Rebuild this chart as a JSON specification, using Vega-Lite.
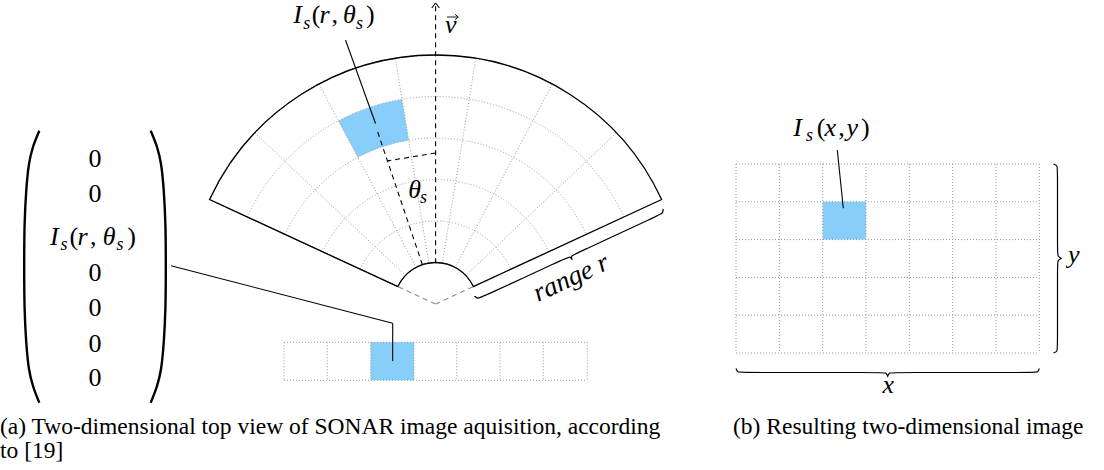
{
  "$schema": "https://vega.github.io/schema/vega-lite/v6.json",
  "width": 1104,
  "height": 470,
  "padding": 0,
  "autosize": "none",
  "background": "white",
  "config": {"view": {"stroke": null}, "font": "Liberation Serif"},
  "datasets": {
    "fanRings": [
      {"x": 435.6, "y": 304, "a0": -65.2, "a1": 65.2, "r0": 83, "r1": 41.5},
      {"x": 435.6, "y": 304, "a0": -65.2, "a1": 65.2, "r0": 124.5, "r1": 41.5},
      {"x": 435.6, "y": 304, "a0": -65.2, "a1": 65.2, "r0": 166, "r1": 41.5},
      {"x": 435.6, "y": 304, "a0": -65.2, "a1": 65.2, "r0": 207.5, "r1": 41.5}
    ],
    "fanRays": [
      {"x": 435.6, "y": 304, "a0": -65.2, "a1": -46.57, "r0": 249, "r1": 41.5},
      {"x": 435.6, "y": 304, "a0": -65.2, "a1": -27.94, "r0": 249, "r1": 41.5},
      {"x": 435.6, "y": 304, "a0": -65.2, "a1": -9.31, "r0": 249, "r1": 41.5},
      {"x": 435.6, "y": 304, "a0": -65.2, "a1": 9.31, "r0": 249, "r1": 41.5},
      {"x": 435.6, "y": 304, "a0": -65.2, "a1": 27.94, "r0": 249, "r1": 41.5},
      {"x": 435.6, "y": 304, "a0": -65.2, "a1": 46.57, "r0": 249, "r1": 41.5}
    ],
    "fanCell": [
      {"x": 435.6, "y": 304, "a0": -27.94, "a1": -9.31, "r0": 207.5, "r1": 166}
    ],
    "fanOutline": [
      {"x": 435.6, "y": 304, "a0": -65.2, "a1": 65.2, "r0": 249, "r1": 41.5}
    ],
    "cells": [
      {"x": 370.7, "x2": 414, "y": 342.3, "y2": 380.3},
      {"x": 822.7, "x2": 866, "y": 201.8, "y2": 239.6}
    ],
    "dots": [
      {"x": 284, "y": 342.3, "x2": 284, "y2": 380.3},
      {"x": 327.3, "y": 342.3, "x2": 327.3, "y2": 380.3},
      {"x": 370.7, "y": 342.3, "x2": 370.7, "y2": 380.3},
      {"x": 414, "y": 342.3, "x2": 414, "y2": 380.3},
      {"x": 456.7, "y": 342.3, "x2": 456.7, "y2": 380.3},
      {"x": 500, "y": 342.3, "x2": 500, "y2": 380.3},
      {"x": 543.3, "y": 342.3, "x2": 543.3, "y2": 380.3},
      {"x": 587.3, "y": 342.3, "x2": 587.3, "y2": 380.3},
      {"x": 284, "y": 342.3, "x2": 587.3, "y2": 342.3},
      {"x": 284, "y": 380.3, "x2": 587.3, "y2": 380.3},
      {"x": 736, "y": 164, "x2": 736, "y2": 353},
      {"x": 779.3, "y": 164, "x2": 779.3, "y2": 353},
      {"x": 822.7, "y": 164, "x2": 822.7, "y2": 353},
      {"x": 866, "y": 164, "x2": 866, "y2": 353},
      {"x": 909.3, "y": 164, "x2": 909.3, "y2": 353},
      {"x": 952.7, "y": 164, "x2": 952.7, "y2": 353},
      {"x": 996, "y": 164, "x2": 996, "y2": 353},
      {"x": 1039.3, "y": 164, "x2": 1039.3, "y2": 353},
      {"x": 736, "y": 164, "x2": 1039.3, "y2": 164},
      {"x": 736, "y": 201.8, "x2": 1039.3, "y2": 201.8},
      {"x": 736, "y": 239.6, "x2": 1039.3, "y2": 239.6},
      {"x": 736, "y": 277.4, "x2": 1039.3, "y2": 277.4},
      {"x": 736, "y": 315.2, "x2": 1039.3, "y2": 315.2},
      {"x": 736, "y": 353, "x2": 1039.3, "y2": 353}
    ],
    "solid": [
      {"x": 171, "y": 265.7, "x2": 392.7, "y2": 323.3},
      {"x": 392.7, "y": 323.3, "x2": 392.7, "y2": 361},
      {"x": 345.5, "y": 40, "x2": 375.5, "y2": 123.5},
      {"x": 837.3, "y": 150, "x2": 843.3, "y2": 208.3},
      {"x": 431.8, "y": 8, "x2": 435.6, "y2": 3},
      {"x": 435.6, "y": 3, "x2": 439.4, "y2": 8}
    ],
    "thin": [
      {"x": 447, "y": 17, "x2": 458, "y2": 17},
      {"x": 455, "y": 14.3, "x2": 458.3, "y2": 17},
      {"x": 455, "y": 19.7, "x2": 458.3, "y2": 17}
    ],
    "dashed": [
      {"x": 435.6, "y": 263.3, "x2": 435.6, "y2": 3.5},
      {"x": 422.4, "y": 264.7, "x2": 376.6, "y2": 128.7},
      {"x": 435.6, "y": 153, "x2": 387.4, "y2": 160.9}
    ],
    "grayDashed": [
      {"x": 435.6, "y": 304, "x2": 397.9, "y2": 286.6},
      {"x": 435.6, "y": 304, "x2": 473.3, "y2": 286.6}
    ],
    "parens": [
      {"id": "L", "i": 1, "x": 39.3, "y": 130.7},
      {"id": "L", "i": 2, "x": 33, "y": 147},
      {"id": "L", "i": 3, "x": 29, "y": 164},
      {"id": "L", "i": 4, "x": 26.3, "y": 190},
      {"id": "L", "i": 5, "x": 24.6, "y": 225},
      {"id": "L", "i": 6, "x": 24.2, "y": 266.5},
      {"id": "L", "i": 7, "x": 24.6, "y": 308},
      {"id": "L", "i": 8, "x": 26.3, "y": 343},
      {"id": "L", "i": 9, "x": 29, "y": 369},
      {"id": "L", "i": 10, "x": 33, "y": 386},
      {"id": "L", "i": 11, "x": 39.3, "y": 402.7},
      {"id": "R", "i": 1, "x": 150.7, "y": 130.7},
      {"id": "R", "i": 2, "x": 157, "y": 147},
      {"id": "R", "i": 3, "x": 161, "y": 164},
      {"id": "R", "i": 4, "x": 163.7, "y": 190},
      {"id": "R", "i": 5, "x": 165.4, "y": 225},
      {"id": "R", "i": 6, "x": 165.8, "y": 266.5},
      {"id": "R", "i": 7, "x": 165.4, "y": 308},
      {"id": "R", "i": 8, "x": 163.7, "y": 343},
      {"id": "R", "i": 9, "x": 161, "y": 369},
      {"id": "R", "i": 10, "x": 157, "y": 386},
      {"id": "R", "i": 11, "x": 150.7, "y": 402.7}
    ],
    "braces": [
      {"id": "by", "i": 1, "x": 1053.5, "y": 164},
      {"id": "by", "i": 2, "x": 1057.5, "y": 165.5},
      {"id": "by", "i": 3, "x": 1057.5, "y": 170},
      {"id": "by", "i": 4, "x": 1057.5, "y": 252},
      {"id": "by", "i": 5, "x": 1057.5, "y": 256},
      {"id": "by", "i": 6, "x": 1061.2, "y": 258.3},
      {"id": "by", "i": 7, "x": 1061.2, "y": 258.3},
      {"id": "by", "i": 8, "x": 1061.2, "y": 258.3},
      {"id": "by", "i": 9, "x": 1057.5, "y": 260.6},
      {"id": "by", "i": 10, "x": 1057.5, "y": 264.6},
      {"id": "by", "i": 11, "x": 1057.5, "y": 347},
      {"id": "by", "i": 12, "x": 1057.5, "y": 351.5},
      {"id": "by", "i": 13, "x": 1053.5, "y": 353},
      {"id": "bx", "i": 1, "x": 736, "y": 368.5},
      {"id": "bx", "i": 2, "x": 737.5, "y": 372.5},
      {"id": "bx", "i": 3, "x": 742, "y": 372.5},
      {"id": "bx", "i": 4, "x": 882, "y": 372.5},
      {"id": "bx", "i": 5, "x": 886, "y": 372.5},
      {"id": "bx", "i": 6, "x": 887.7, "y": 376.2},
      {"id": "bx", "i": 7, "x": 887.7, "y": 376.2},
      {"id": "bx", "i": 8, "x": 887.7, "y": 376.2},
      {"id": "bx", "i": 9, "x": 889.4, "y": 372.5},
      {"id": "bx", "i": 10, "x": 893.5, "y": 372.5},
      {"id": "bx", "i": 11, "x": 1033.5, "y": 372.5},
      {"id": "bx", "i": 12, "x": 1038, "y": 372.5},
      {"id": "bx", "i": 13, "x": 1039.3, "y": 368.5},
      {"id": "br", "i": 1, "x": 474.4, "y": 296.1},
      {"id": "br", "i": 2, "x": 477.8, "y": 298.9},
      {"id": "br", "i": 3, "x": 482.4, "y": 296.8},
      {"id": "br", "i": 4, "x": 566.8, "y": 257.8},
      {"id": "br", "i": 5, "x": 570.0, "y": 256.3},
      {"id": "br", "i": 6, "x": 572.1, "y": 259.8},
      {"id": "br", "i": 7, "x": 572.1, "y": 259.8},
      {"id": "br", "i": 8, "x": 572.1, "y": 259.8},
      {"id": "br", "i": 9, "x": 570.9, "y": 255.9},
      {"id": "br", "i": 10, "x": 574.1, "y": 254.5},
      {"id": "br", "i": 11, "x": 658.5, "y": 215.4},
      {"id": "br", "i": 12, "x": 663.0, "y": 213.3},
      {"id": "br", "i": 13, "x": 663.2, "y": 208.9}
    ],
    "mathItalic": [
      {"t": "I", "x": 293.3, "y": 23.3},
      {"t": "r", "x": 319.5, "y": 23.3},
      {"t": "θ", "x": 343, "y": 23.3},
      {"t": "I", "x": 50, "y": 245},
      {"t": "r", "x": 77.5, "y": 245},
      {"t": "θ", "x": 102.7, "y": 245},
      {"t": "I", "x": 793.3, "y": 136},
      {"t": "x", "x": 824.5, "y": 136},
      {"t": "y", "x": 846.5, "y": 136},
      {"t": "θ", "x": 408.3, "y": 198.3},
      {"t": "v", "x": 445, "y": 33},
      {"t": "x", "x": 882.5, "y": 393.3},
      {"t": "y", "x": 1068, "y": 263.3}
    ],
    "mathSub": [
      {"t": "s", "x": 303.3, "y": 28.5},
      {"t": "s", "x": 356, "y": 28.5},
      {"t": "s", "x": 60.6, "y": 250},
      {"t": "s", "x": 116.5, "y": 250},
      {"t": "s", "x": 806, "y": 141},
      {"t": "s", "x": 420, "y": 202.5}
    ],
    "mathUpright": [
      {"t": "(", "x": 311.7, "y": 23.3},
      {"t": ",", "x": 331.5, "y": 23.3},
      {"t": ")", "x": 366, "y": 23.3},
      {"t": "(", "x": 69.5, "y": 245},
      {"t": ",", "x": 90, "y": 245},
      {"t": ")", "x": 127.2, "y": 245},
      {"t": "(", "x": 816.7, "y": 136},
      {"t": ",", "x": 838.3, "y": 136},
      {"t": ")", "x": 861, "y": 136},
      {"t": "0", "x": 88.5, "y": 167.3},
      {"t": "0", "x": 88.5, "y": 201.6},
      {"t": "0", "x": 88.5, "y": 280.6},
      {"t": "0", "x": 88.5, "y": 316},
      {"t": "0", "x": 88.5, "y": 351.6},
      {"t": "0", "x": 88.5, "y": 386}
    ],
    "captions": [
      {"t": "(a) Two-dimensional top view of SONAR image aquisition, according", "x": 0, "y": 434},
      {"t": "to [19]", "x": 0, "y": 458},
      {"t": "(b) Resulting two-dimensional image", "x": 733, "y": 434}
    ],
    "rangeLabel": [
      {"t": "range r", "x": 571, "y": 278}
    ]
  },
  "encoding": {
    "x": {"field": "x", "type": "quantitative", "scale": {"domain": [0, 1104], "nice": false, "zero": false}, "axis": null},
    "y": {"field": "y", "type": "quantitative", "scale": {"domain": [0, 470], "reverse": true, "nice": false, "zero": false}, "axis": null}
  },
  "layer": [
    {
      "data": {"name": "fanCell"},
      "mark": {"type": "arc", "fill": "#87cefa", "stroke": null},
      "encoding": {
        "theta": {"field": "a0", "type": "quantitative", "scale": {"type": "linear", "domain": [-180, 180], "range": [-3.14159265, 3.14159265], "zero": false, "nice": false}, "stack": null},
        "theta2": {"field": "a1"},
        "radius": {"field": "r0", "type": "quantitative", "scale": {"type": "linear", "domain": [0, 250], "range": [0, 250], "zero": true, "nice": false}, "stack": null},
        "radius2": {"field": "r1"}
      }
    },
    {
      "data": {"name": "cells"},
      "mark": {"type": "rect", "fill": "#87cefa"},
      "encoding": {"x2": {"field": "x2"}, "y2": {"field": "y2"}}
    },
    {
      "data": {"name": "fanRings"},
      "mark": {"type": "arc", "filled": false, "fill": null, "stroke": "#999999", "strokeWidth": 1, "strokeDash": [1, 2]},
      "encoding": {
        "theta": {"field": "a0", "type": "quantitative", "scale": {"type": "linear", "domain": [-180, 180], "range": [-3.14159265, 3.14159265], "zero": false, "nice": false}, "stack": null},
        "theta2": {"field": "a1"},
        "radius": {"field": "r0", "type": "quantitative", "scale": {"type": "linear", "domain": [0, 250], "range": [0, 250], "zero": true, "nice": false}, "stack": null},
        "radius2": {"field": "r1"}
      }
    },
    {
      "data": {"name": "fanRays"},
      "mark": {"type": "arc", "filled": false, "fill": null, "stroke": "#999999", "strokeWidth": 1, "strokeDash": [1, 2]},
      "encoding": {
        "theta": {"field": "a0", "type": "quantitative", "scale": {"type": "linear", "domain": [-180, 180], "range": [-3.14159265, 3.14159265], "zero": false, "nice": false}, "stack": null},
        "theta2": {"field": "a1"},
        "radius": {"field": "r0", "type": "quantitative", "scale": {"type": "linear", "domain": [0, 250], "range": [0, 250], "zero": true, "nice": false}, "stack": null},
        "radius2": {"field": "r1"}
      }
    },
    {
      "data": {"name": "dots"},
      "mark": {"type": "rule", "stroke": "#999999", "strokeWidth": 1, "strokeDash": [1, 2]},
      "encoding": {"x2": {"field": "x2"}, "y2": {"field": "y2"}}
    },
    {
      "data": {"name": "fanOutline"},
      "mark": {"type": "arc", "filled": false, "fill": null, "stroke": "#000000", "strokeWidth": 1.3},
      "encoding": {
        "theta": {"field": "a0", "type": "quantitative", "scale": {"type": "linear", "domain": [-180, 180], "range": [-3.14159265, 3.14159265], "zero": false, "nice": false}, "stack": null},
        "theta2": {"field": "a1"},
        "radius": {"field": "r0", "type": "quantitative", "scale": {"type": "linear", "domain": [0, 250], "range": [0, 250], "zero": true, "nice": false}, "stack": null},
        "radius2": {"field": "r1"}
      }
    },
    {
      "data": {"name": "solid"},
      "mark": {"type": "rule", "stroke": "#000000", "strokeWidth": 1.1},
      "encoding": {"x2": {"field": "x2"}, "y2": {"field": "y2"}}
    },
    {
      "data": {"name": "thin"},
      "mark": {"type": "rule", "stroke": "#000000", "strokeWidth": 0.9},
      "encoding": {"x2": {"field": "x2"}, "y2": {"field": "y2"}}
    },
    {
      "data": {"name": "dashed"},
      "mark": {"type": "rule", "stroke": "#000000", "strokeWidth": 1.1, "strokeDash": [5, 4]},
      "encoding": {"x2": {"field": "x2"}, "y2": {"field": "y2"}}
    },
    {
      "data": {"name": "grayDashed"},
      "mark": {"type": "rule", "stroke": "#888888", "strokeWidth": 1.1, "strokeDash": [5, 4]},
      "encoding": {"x2": {"field": "x2"}, "y2": {"field": "y2"}}
    },
    {
      "data": {"name": "parens"},
      "mark": {"type": "line", "interpolate": "cardinal", "stroke": "#000000", "strokeWidth": 2.4},
      "encoding": {"detail": {"field": "id"}, "order": {"field": "i", "type": "quantitative"}}
    },
    {
      "data": {"name": "braces"},
      "mark": {"type": "line", "interpolate": "basis", "stroke": "#000000", "strokeWidth": 1.2},
      "encoding": {"detail": {"field": "id"}, "order": {"field": "i", "type": "quantitative"}}
    },
    {
      "data": {"name": "mathItalic"},
      "mark": {"type": "text", "align": "left", "baseline": "alphabetic", "font": "Liberation Serif", "fontStyle": "italic", "fontSize": 26, "color": "#000000"},
      "encoding": {"text": {"field": "t"}}
    },
    {
      "data": {"name": "mathSub"},
      "mark": {"type": "text", "align": "left", "baseline": "alphabetic", "font": "Liberation Serif", "fontStyle": "italic", "fontSize": 18, "color": "#000000"},
      "encoding": {"text": {"field": "t"}}
    },
    {
      "data": {"name": "mathUpright"},
      "mark": {"type": "text", "align": "left", "baseline": "alphabetic", "font": "Liberation Serif", "fontSize": 26, "color": "#000000"},
      "encoding": {"text": {"field": "t"}}
    },
    {
      "data": {"name": "captions"},
      "mark": {"type": "text", "align": "left", "baseline": "alphabetic", "font": "Liberation Serif", "fontSize": 23.5, "color": "#000000"},
      "encoding": {"text": {"field": "t"}}
    },
    {
      "data": {"name": "rangeLabel"},
      "mark": {"type": "text", "align": "center", "baseline": "middle", "font": "Liberation Serif", "fontStyle": "italic", "fontSize": 27, "angle": 335.2, "color": "#000000"},
      "encoding": {"text": {"field": "t"}}
    }
  ]
}
